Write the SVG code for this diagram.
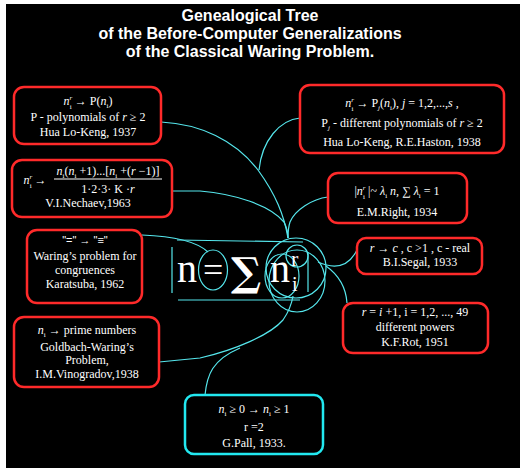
<svg xmlns="http://www.w3.org/2000/svg" width="527" height="476" viewBox="0 0 527 476">
<style>
.bg{fill:#000}
.rb{fill:#000;stroke:#ff2a2a;stroke-width:2.5}
.cb{fill:#000;stroke:#22e8f0;stroke-width:2.5}
.ln{fill:none;stroke:#55e6ec;stroke-width:1.2}
.t{font-family:"Liberation Serif","Times New Roman",serif;font-size:12px;fill:#fff;text-anchor:middle}
.s{font-family:"Liberation Sans",Arial,sans-serif;font-size:11px;fill:#fff;text-anchor:middle}
.ti{font-family:"Liberation Sans",Arial,sans-serif;font-size:16px;font-weight:bold;fill:#fff;text-anchor:middle}
.big{font-family:"Liberation Serif","Times New Roman",serif;fill:#fff}
.i{font-style:italic}
.sm{font-size:7px}
</style>
<rect width="527" height="476" fill="#fff"/>
<rect class="bg" x="6" y="4" width="514" height="464"/>
<g id="title">
<text class="ti" x="250" y="21">Genealogical Tree</text>
<text class="ti" x="250" y="39">of the Before-Computer Generalizations</text>
<text class="ti" x="250" y="57">of the Classical Waring Problem.</text>
</g>
<g id="connectors">
<path class="ln" d="M161,122 C200,124 235,140 258,170 C276,195 284,215 288,238"/>
<path class="ln" d="M300,118 C280,120 262,140 259,170"/>
<path class="ln" d="M172,191 L200,191 C235,194 270,205 284,222 C287,228 288,233 288,238"/>
<path class="ln" d="M328,197 C312,199 295,210 290,222 C288,228 288,233 288,238"/>
<path class="ln" d="M142,235 C170,236 195,240 208,252"/>
<path class="ln" d="M159,362 L200,358 C235,350 270,335 283,320 C290,310 292,302 293,296"/>
<path class="ln" d="M205,395 C207,375 212,360 240,348"/>
<path class="ln" d="M357,250 C350,264 338,271 318,262"/>
<path class="ln" d="M347,303 C346,288 340,276 326,266"/>
</g>
<g id="formula">
<path class="ln" d="M177,240 L303,242 M178,300 L300,300 M172,247 L172,293 M308,252 L308,292"/>
<ellipse class="ln" cx="213" cy="270" rx="14.5" ry="20"/>
<circle class="ln" cx="297" cy="256" r="11"/>
<ellipse class="ln" cx="282" cy="276" rx="17" ry="22"/>
<ellipse class="ln" cx="297" cy="281" rx="28" ry="31"/>
<circle class="ln" cx="296" cy="268" r="30"/>
<text class="big" x="177" y="282" font-size="40">n</text>
<text class="big" x="203" y="282" font-size="36">=</text>
<text x="231" y="286" font-size="40" font-weight="bold" fill="#fff" font-family="'DejaVu Serif',serif">∑</text>
<text class="big" x="270" y="282" font-size="40">n</text>
<text class="big" x="291" y="266" font-size="22">r</text>
<text class="big" x="292" y="291" font-size="20">i</text>
</g>
<g id="n1">
<rect class="rb" x="14" y="87" width="147" height="57" rx="10"/>
<text class="t" x="88" y="105"><tspan class="i">n</tspan><tspan class="sm i" dy="-5">r</tspan><tspan class="sm" dx="-2.5" dy="9">i</tspan><tspan dy="-4">  →  P(</tspan><tspan class="i">n</tspan><tspan class="sm" dy="3">i</tspan><tspan dy="-3">)</tspan></text>
<text class="t" x="88" y="121">P - polynomials of <tspan class="i">r</tspan>  ≥ 2</text>
<text class="t" x="88" y="136">Hua Lo-Keng, 1937</text>
</g>
<g id="n2">
<rect class="rb" x="12" y="160" width="160" height="57" rx="10"/>
<text class="t" x="35" y="184"><tspan class="i">n</tspan><tspan class="sm i" dy="-5">r</tspan><tspan class="sm" dx="-2.5" dy="9">i</tspan><tspan dy="-4"> →</tspan></text>
<text class="t" x="108" y="175"><tspan class="i">n</tspan><tspan class="sm" dy="3">i</tspan><tspan dy="-3">(</tspan><tspan class="i">n</tspan><tspan class="sm" dy="3">i</tspan><tspan dy="-3"> +1)...[</tspan><tspan class="i">n</tspan><tspan class="sm" dy="3">i</tspan><tspan dy="-3"> +(</tspan><tspan class="i">r</tspan> −1)]</text>
<line x1="54" y1="179" x2="162" y2="179" stroke="#fff" stroke-width="1"/>
<text class="t" x="108" y="193">1·2·3· K  ·<tspan class="i">r</tspan></text>
<text class="t" x="88" y="207">V.I.Nechaev,1963</text>
</g>
<g id="n3">
<rect class="rb" x="27" y="230" width="115" height="73" rx="10"/>
<text class="s" x="85" y="244">"="    →    "≡"</text>
<text class="t" x="85" y="260">Waring’s problem for</text>
<text class="t" x="85" y="274">congruences</text>
<text class="t" x="85" y="288">Karatsuba, 1962</text>
</g>
<g id="n4">
<rect class="rb" x="14" y="317" width="145" height="70" rx="10"/>
<text class="t" x="87" y="334"><tspan class="i">n</tspan><tspan class="sm" dy="3">i</tspan><tspan dy="-3">  → prime numbers</tspan></text>
<text class="t" x="87" y="351">Goldbach-Waring’s</text>
<text class="t" x="87" y="364">Problem,</text>
<text class="t" x="87" y="378">I.M.Vinogradov,1938</text>
</g>
<g id="n5">
<rect class="rb" x="300" y="85" width="204" height="68" rx="10"/>
<text class="t" x="402" y="107"><tspan class="i">n</tspan><tspan class="sm i" dy="-5">r</tspan><tspan class="sm" dx="-2.5" dy="9">i</tspan><tspan dy="-4"> →  P</tspan><tspan class="sm i" dy="3">j</tspan><tspan dy="-3">(</tspan><tspan class="i">n</tspan><tspan class="sm" dy="3">i</tspan><tspan dy="-3">), </tspan><tspan class="i">j</tspan> = 1,2,...,<tspan class="i">s</tspan> ,</text>
<text class="t" x="402" y="127">P<tspan class="sm i" dy="3">j</tspan><tspan dy="-3"> - different polynomials of </tspan><tspan class="i">r</tspan>  ≥ 2</text>
<text class="t" x="402" y="146">Hua Lo-Keng, R.E.Haston, 1938</text>
</g>
<g id="n6">
<rect class="rb" x="328" y="173" width="139" height="50" rx="10"/>
<text class="t" x="397" y="195">|<tspan class="i">n</tspan><tspan class="sm i" dy="-5">r</tspan><tspan class="sm" dx="-2.5" dy="9">i</tspan><tspan dy="-4"> |~ </tspan><tspan class="i">λ</tspan><tspan class="sm" dy="3">i</tspan><tspan dy="-3" class="i"> n</tspan><tspan>, ∑ </tspan><tspan class="i">λ</tspan><tspan class="sm" dy="3">i</tspan><tspan dy="-3"> = 1</tspan></text>
<text class="t" x="397" y="216">E.M.Right, 1934</text>
</g>
<g id="n7">
<rect class="rb" x="357" y="238" width="125" height="36" rx="9"/>
<text class="t" x="420" y="252"><tspan class="i">r</tspan>  → <tspan class="i">c</tspan> , c &gt;1 , c - real</text>
<text class="t" x="420" y="266">B.I.Segal, 1933</text>
</g>
<g id="n8">
<rect class="rb" x="343" y="303" width="145" height="50" rx="10"/>
<text class="t" x="415" y="316"><tspan class="i">r</tspan> = <tspan class="i">i</tspan> +1, i = 1,2, ..., 49</text>
<text class="t" x="415" y="331">different powers</text>
<text class="t" x="415" y="346">K.F.Rot, 1951</text>
</g>
<g id="n9">
<rect class="cb" x="185" y="395" width="138" height="59" rx="9"/>
<text class="t" x="254" y="413"><tspan class="i">n</tspan><tspan class="sm" dy="3">i</tspan><tspan dy="-3"> ≥ 0   →   </tspan><tspan class="i">n</tspan><tspan class="sm" dy="3">i</tspan><tspan dy="-3"> ≥ 1</tspan></text>
<text class="t" x="254" y="431">r =2</text>
<text class="t" x="254" y="447">G.Pall, 1933.</text>
</g>
</svg>
